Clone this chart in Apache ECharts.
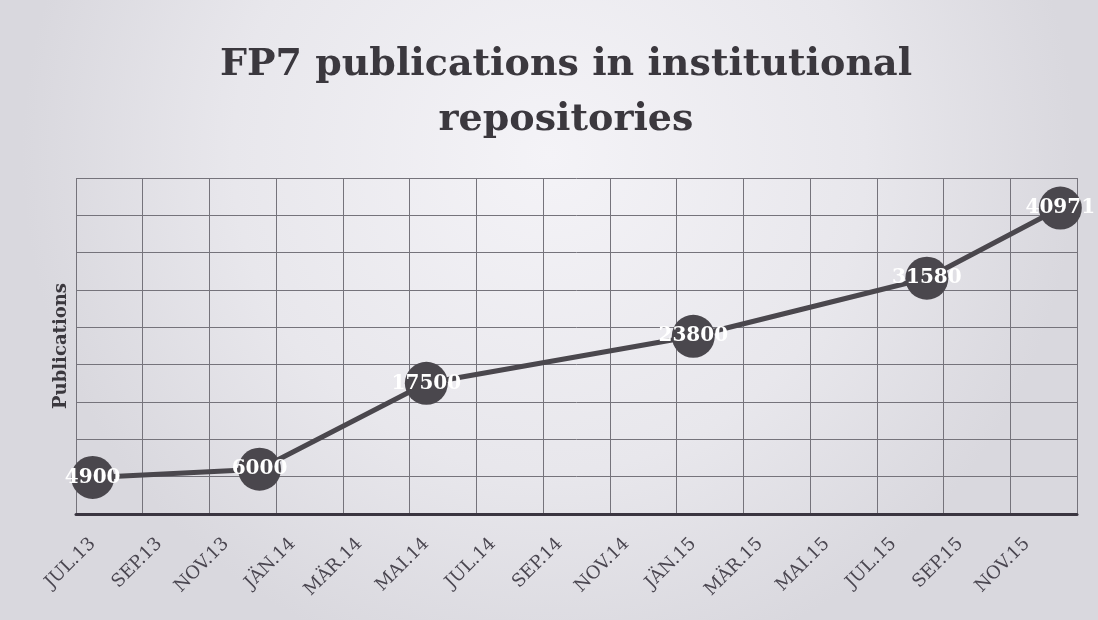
<!DOCTYPE html>
<html>
<head>
<meta charset="utf-8">
<script src="https://cdn.jsdelivr.net/npm/echarts@6/dist/echarts.min.js"></script>
<style>
  html, body { margin: 0; padding: 0; }
  #chart { width: 1098px; height: 620px; }
</style>
</head>
<body>
<div id="chart"></div>
<script>
// Monthly categories (German month abbreviations as in the source)
const months = [
  'JUL.13','AUG.13','SEP.13','OKT.13','NOV.13','DEZ.13',
  'JÄN.14','FEB.14','MÄR.14','APR.14','MAI.14','JUN.14',
  'JUL.14','AUG.14','SEP.14','OKT.14','NOV.14','DEZ.14',
  'JÄN.15','FEB.15','MÄR.15','APR.15','MAI.15','JUN.15',
  'JUL.15','AUG.15','SEP.15','OKT.15','NOV.15','DEZ.15'
];
// Months with observations and their values
const pointMonths = ['JUL.13', 'DEZ.13', 'MAI.14', 'JÄN.15', 'AUG.15', 'DEZ.15'];
const pointValues = [4900, 6000, 17500, 23800, 31580, 40971];

const titleText = 'FP7 publications in institutional\nrepositories';
const yAxisName = 'Publications';

const chart = echarts.init(document.getElementById('chart'));
chart.setOption({
  animation: false,
  backgroundColor: {
    type: 'radial', x: 0.5, y: 0.25, r: 0.85,
    colorStops: [
      { offset: 0, color: '#f4f3f7' },
      { offset: 0.6, color: '#e8e7ec' },
      { offset: 1, color: '#d9d8de' }
    ]
  },
  title: {
    text: titleText,
    left: 561,
    textAlign: 'center',
    top: 33,
    textStyle: {
      fontFamily: 'DejaVu Serif',
      fontWeight: 'bold',
      fontSize: 38,
      lineHeight: 55,
      color: '#3b383e'
    }
  },
  grid: { left: 76, right: 21, top: 178, bottom: 106, containLabel: false },
  xAxis: {
    type: 'category',
    data: months,
    boundaryGap: true,
    axisLine: { show: true, lineStyle: { color: '#3a3540', width: 3 } },
    axisTick: { show: false },
    axisLabel: {
      interval: 1,
      rotate: 45,
      margin: 27,
      fontFamily: 'DejaVu Serif',
      fontSize: 18,
      color: '#4a4650'
    },
    splitLine: { show: true, interval: 1, lineStyle: { color: '#75737b', width: 1 } }
  },
  yAxis: {
    type: 'value',
    min: 0,
    max: 45000,
    interval: 5000,
    name: yAxisName,
    nameLocation: 'middle',
    nameGap: 6,
    nameTextStyle: {
      fontFamily: 'DejaVu Serif',
      fontWeight: 'bold',
      fontSize: 18,
      color: '#3b383e'
    },
    axisLine: { show: false },
    axisTick: { show: false },
    axisLabel: { show: false },
    splitLine: { show: true, lineStyle: { color: '#75737b', width: 1 } }
  },
  series: [{
    type: 'line',
    data: pointMonths.map((m, i) => [m, pointValues[i]]),
    showAllSymbol: true,
    lineStyle: { color: '#4a474d', width: 5 },
    symbol: 'circle',
    symbolSize: 43,
    itemStyle: { color: '#4a474d' },
    label: {
      show: true,
      position: 'inside',
      fontFamily: 'DejaVu Serif',
      fontWeight: 'bold',
      fontSize: 20,
      color: '#ffffff'
    },
    labelLayout: { hideOverlap: false }
  }]
});
</script>
</body>
</html>
